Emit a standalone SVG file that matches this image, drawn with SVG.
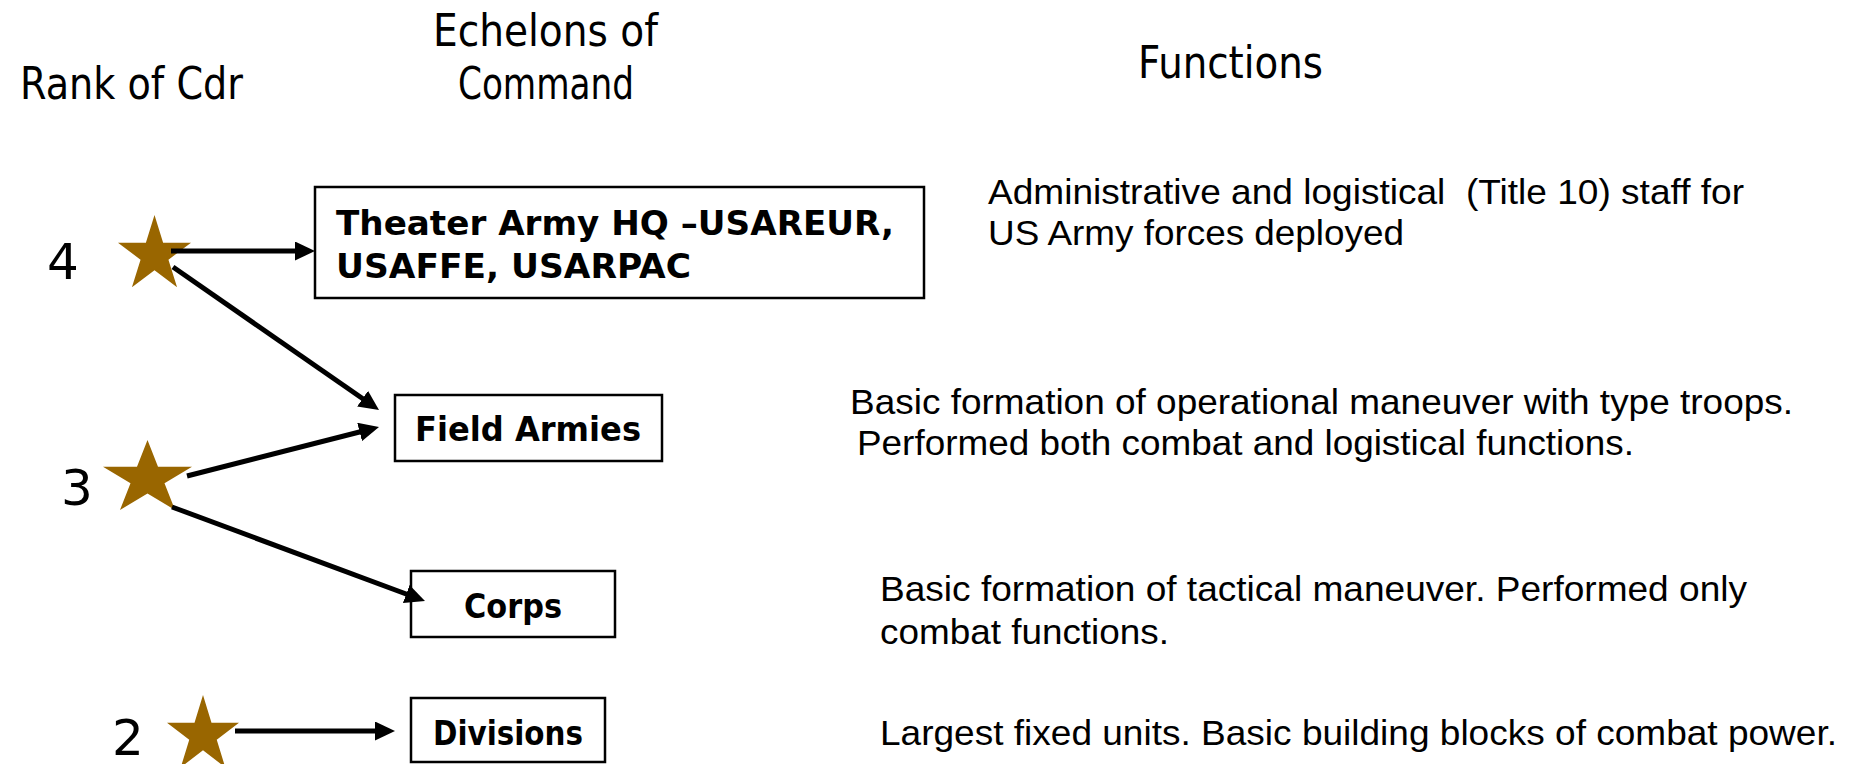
<svg xmlns="http://www.w3.org/2000/svg" xmlns:xlink="http://www.w3.org/1999/xlink" width="1862" height="764" viewBox="0 0 1862 764">
<style>
.hdr{font-family:"DejaVu Sans","Open Sans",sans-serif;font-size:44px;fill:#000}
.num{font-family:"DejaVu Sans","Open Sans",sans-serif;font-size:50px;fill:#000}
.box{fill:#fff;stroke:#000;stroke-width:2.5}
.lbl{font-family:"DejaVu Sans","Open Sans",sans-serif;font-size:34px;font-weight:bold;fill:#000}
.fn{font-family:"Liberation Sans",Arial,sans-serif;font-size:35px;fill:#000}
.con{stroke:#000;stroke-width:5;fill:none;marker-end:url(#ah)}
.star{fill:#996600}
</style>
<defs>
<marker id="ah" markerUnits="userSpaceOnUse" markerWidth="20" markerHeight="19" refX="10" refY="9.5" orient="auto" viewBox="0 0 20 19">
<path d="M0,0 L20,9.5 L0,19 Z" fill="#000"/>
</marker>
<path id="starShape" d="M0,-40 L8.98,-12.36 L38.04,-12.36 L14.53,4.72 L23.51,32.36 L0,15.28 L-23.51,32.36 L-14.53,4.72 L-38.04,-12.36 L-8.98,-12.36 Z"/>
</defs>
<rect width="1862" height="764" fill="#fff"/>

<g id="headers">
<text class="hdr" x="20" y="99" textLength="223" lengthAdjust="spacingAndGlyphs">Rank of Cdr</text>
<text class="hdr" x="433" y="46" textLength="225" lengthAdjust="spacingAndGlyphs">Echelons of</text>
<text class="hdr" x="458" y="99" textLength="176" lengthAdjust="spacingAndGlyphs">Command</text>
<text class="hdr" x="1138" y="78" textLength="185" lengthAdjust="spacingAndGlyphs">Functions</text>
</g>

<g id="rank4">
<text class="num" x="47" y="279">4</text>
<use xlink:href="#starShape" class="star" transform="translate(154.5,255) scale(0.96,1)"/>
</g>
<g id="rank3">
<text class="num" x="61" y="505">3</text>
<use xlink:href="#starShape" class="star" transform="translate(147.5,478.7) scale(1.17,0.967)"/>
</g>
<g id="rank2">
<text class="num" x="112" y="755">2</text>
<use xlink:href="#starShape" class="star" transform="translate(203,735) scale(0.946,1)"/>
</g>

<g id="theater">
<rect class="box" x="315" y="187" width="609" height="111"/>
<text class="lbl" x="336" y="235" textLength="558" lengthAdjust="spacingAndGlyphs">Theater Army HQ –USAREUR,</text>
<text class="lbl" x="336" y="278" textLength="355" lengthAdjust="spacingAndGlyphs">USAFFE, USARPAC</text>
</g>
<g id="fieldArmies">
<rect class="box" x="395" y="395" width="267" height="66"/>
<text class="lbl" x="415" y="441" textLength="226" lengthAdjust="spacingAndGlyphs">Field Armies</text>
</g>
<g id="corps">
<rect class="box" x="411" y="571" width="204" height="66"/>
<text class="lbl" x="464" y="618" textLength="98" lengthAdjust="spacingAndGlyphs">Corps</text>
</g>
<g id="divisions">
<rect class="box" x="411" y="698" width="194" height="64"/>
<text class="lbl" x="433" y="745" textLength="150" lengthAdjust="spacingAndGlyphs">Divisions</text>
</g>

<g id="connectors">
<line class="con" x1="171" y1="251" x2="305" y2="251"/>
<line class="con" x1="173" y1="267" x2="370.8" y2="404.3"/>
<line class="con" x1="187" y1="476" x2="369.3" y2="429.5"/>
<line class="con" x1="172" y1="507" x2="415.6" y2="597.5"/>
<line class="con" x1="235" y1="731" x2="385" y2="731"/>
</g>

<g id="functions">
<text class="fn" x="988" y="204" textLength="756" lengthAdjust="spacingAndGlyphs" xml:space="preserve">Administrative and logistical  (Title 10) staff for</text>
<text class="fn" x="988" y="245" textLength="416" lengthAdjust="spacingAndGlyphs">US Army forces deployed</text>
<text class="fn" x="850" y="414" textLength="943" lengthAdjust="spacingAndGlyphs">Basic formation of operational maneuver with type troops.</text>
<text class="fn" x="857" y="455" textLength="777" lengthAdjust="spacingAndGlyphs">Performed both combat and logistical functions.</text>
<text class="fn" x="880" y="601" textLength="867" lengthAdjust="spacingAndGlyphs">Basic formation of tactical maneuver. Performed only</text>
<text class="fn" x="880" y="644" textLength="289" lengthAdjust="spacingAndGlyphs">combat functions.</text>
<text class="fn" x="880" y="745" textLength="957" lengthAdjust="spacingAndGlyphs">Largest fixed units. Basic building blocks of combat power.</text>
</g>
</svg>
